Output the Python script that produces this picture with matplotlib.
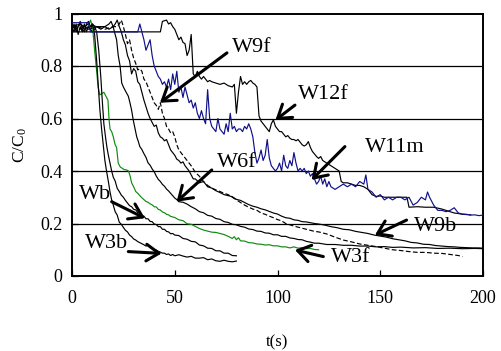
import matplotlib
matplotlib.use("Agg")
import matplotlib.pyplot as plt

plt.rcParams['font.family'] = ['Liberation Serif', 'DejaVu Serif']
plt.rcParams['mathtext.fontset'] = 'custom'
plt.rcParams['mathtext.rm'] = 'Liberation Serif'
plt.rcParams['mathtext.it'] = 'Liberation Serif:italic'

# ---------------- data (t in s, C/C0) ----------------
W3b = [(0,0.95),(1,0.93),(2,0.96),(3,0.92),(4,0.95),(5,0.93),(6,0.96),(7,0.93),(8,0.95),(9,0.94),
       (10,0.96),(11,0.92),(12,0.82),(13,0.70),(13.6,0.63),(14.4,0.56),(15.2,0.50),(16,0.44),(16.8,0.40),
       (17.7,0.36),(18.5,0.32),(19.3,0.29),(20.1,0.27),(21,0.245),(22,0.232),(23,0.205),(24,0.197),
       (25,0.185),(26,0.174),(27,0.168),(28,0.156),(29,0.150),(30,0.141),(31,0.137),(32,0.131),(33,0.127),
       (34,0.123),(35,0.119),(36,0.114),(37,0.117),(38,0.108),(39,0.107),(40,0.101),(41,0.099),(42,0.094),
       (43,0.091),(44,0.087),(45,0.087),(46,0.082),(47,0.084),(48,0.078),(49,0.082),(50,0.077),(52,0.081),
       (54,0.076),(56,0.072),(58,0.075),(60,0.068),(62,0.068),(64,0.070),(66,0.062),(68,0.065),(70,0.058),
       (72,0.056),(74,0.060),(76,0.056),(78,0.054),(80,0.057)]

Wb = [(0,0.94),(1,0.96),(2,0.93),(3,0.95),(4,0.97),(5,0.94),(6,0.93),(7,0.96),(8,0.97),(9,0.95),
      (10,0.96),(11,0.95),(12,0.93),(13,0.86),(14,0.76),(14.8,0.66),(15.5,0.58),(16.3,0.53),(17,0.49),
      (17.7,0.46),(18.5,0.43),(19.3,0.40),(20.1,0.376),(21,0.362),(22,0.334),(23,0.322),(24,0.308),
      (25,0.300),(26,0.288),(27,0.278),(28,0.268),(29,0.264),(30,0.254),(31,0.252),(32,0.242),(33,0.240),
      (34,0.230),(35,0.228),(36,0.218),(37,0.218),(38,0.208),(39,0.207),(40,0.198),(41,0.196),(42,0.188),
      (43,0.188),(44,0.178),(45,0.178),(46,0.170),(47,0.168),(48,0.161),(49,0.162),(50,0.156),(52,0.154),
      (54,0.143),(56,0.140),(58,0.132),(60,0.130),(62,0.118),(64,0.115),(66,0.106),(68,0.105),(70,0.096),
      (72,0.096),(74,0.087),(76,0.087),(78,0.078),(80,0.077)]

W3f = [(8,0.95),(9,0.975),(10,0.95),(11,0.86),(12,0.78),(12.7,0.72),(13.5,0.69),(14.6,0.695),
       (15.5,0.70),(16.5,0.685),(17.5,0.67),(18,0.60),(18.5,0.56),(19.3,0.55),(20.1,0.53),(21,0.50),
       (21.7,0.49),(22.5,0.43),(23.5,0.415),(24.5,0.41),(25.5,0.405),(26.6,0.404),(27.5,0.40),(28.3,0.38),
       (29,0.355),(30,0.34),(31,0.322),(32,0.315),(33,0.306),(34,0.298),(35,0.291),(36,0.284),(37,0.281),
       (38,0.275),(39,0.271),(40,0.264),(41,0.263),(42,0.254),(43,0.251),(44,0.244),(45,0.241),(46,0.235),
       (47,0.233),(48,0.227),(50,0.223),(52,0.214),(54,0.211),(56,0.199),(58,0.197),(60,0.189),(62,0.181),
       (64,0.175),(66,0.171),(68,0.167),(70,0.166),(72,0.162),(74,0.158),(76,0.151),(78,0.143),(79,0.150),
       (80,0.138),(81,0.146),(82,0.134),(84,0.133),(86,0.127),(88,0.126),(90,0.122),(92,0.121),(94,0.118),
       (96,0.119),(98,0.115),(100,0.115),(102,0.111),(104,0.111),(106,0.107),(108,0.111),(110,0.106),
       (112,0.108),(114,0.104),(116,0.105),(118,0.101),(120,0.100)]

W6f = [(0,0.95),(4,0.96),(8,0.94),(12,0.95),(16,0.95),(18,0.96),(19,0.97),(20,0.95),(21,0.92),
       (21.7,0.90),(22.5,0.84),(23.4,0.80),(24.2,0.735),(25,0.72),(26,0.705),(27.4,0.685),(28.2,0.66),
       (29,0.632),(29.8,0.594),(30.7,0.56),(31.5,0.53),(32.3,0.512),(33,0.493),(34,0.482),(35,0.466),
       (36,0.452),(37,0.431),(38,0.422),(39,0.408),(40,0.397),(41,0.381),(42,0.368),(43,0.360),(44,0.349),
       (45,0.342),(46,0.331),(47,0.324),(48,0.315),(49,0.306),(50,0.297),(51,0.291),(52,0.283),(54,0.281),
       (56,0.274),(58,0.264),(60,0.256),(62,0.245),(64,0.241),(66,0.231),(68,0.228),(70,0.219),(72,0.216),
       (74,0.207),(76,0.204),(78,0.197),(80,0.195),(82,0.189),(84,0.186),(86,0.179),(88,0.177),(90,0.171),
       (92,0.170),(94,0.164),(96,0.163),(98,0.157),(100,0.157),(102,0.151),(104,0.151),(106,0.145),
       (108,0.143),(110,0.139),(112,0.138),(114,0.132),(116,0.129),(118,0.125),(120,0.125),(124,0.120),
       (128,0.120),(132,0.117),(136,0.117),(140,0.114),(144,0.114),(148,0.111),(152,0.112),(156,0.109),
       (160,0.110),(166,0.107),(172,0.108),(178,0.105),(184,0.106),(190,0.104),(196,0.105),(200,0.104)]

W9b = [(0,0.95),(2,0.94),(4,0.96),(6,0.94),(8,0.95),(10,0.93),(12,0.95),(14,0.94),(16,0.95),(18,0.94),
       (20,0.95),(21,0.96),(22,0.975),(23,0.95),(24,0.93),(25,0.90),(26,0.88),(27,0.84),(28,0.82),(29,0.77),
       (30,0.79),(31,0.78),(32,0.74),(33,0.73),(34,0.70),(35,0.67),(36,0.645),(37,0.62),(38,0.60),(39,0.585),
       (40,0.57),(41,0.575),(42,0.545),(43,0.53),(44,0.525),(45,0.515),(46,0.52),(47,0.50),(48,0.48),
       (49,0.47),(50,0.46),(51,0.445),(52,0.44),(53,0.43),(54,0.435),(55,0.42),(56,0.41),(57,0.40),
       (58,0.385),(59,0.37),(60,0.37),(62,0.355),(64,0.36),(66,0.34),(68,0.335),(70,0.325),(72,0.318),
       (74,0.31),(76,0.306),(78,0.302),(80,0.292),(82,0.288),(84,0.28),(86,0.272),(88,0.266),(90,0.262),
       (92,0.256),(94,0.252),(96,0.246),(98,0.24),(100,0.236),(102,0.228),(104,0.222),(106,0.22),
       (108,0.214),(110,0.212),(112,0.207),(114,0.206),(116,0.203),(118,0.2),(120,0.198),(123,0.194),
       (126,0.188),(129,0.184),(132,0.178),(135,0.176),(138,0.17),(141,0.166),(144,0.162),(147,0.156),
       (150,0.152),(153,0.148),(156,0.142),(159,0.138),(162,0.134),(165,0.128),(168,0.126),(171,0.121),
       (174,0.12),(177,0.116),(180,0.114),(183,0.112),(186,0.111),(189,0.109),(192,0.108),(195,0.107),
       (198,0.107),(200,0.106)]

W9f = [(0,0.95),(4,0.94),(8,0.96),(12,0.95),(16,0.94),(20,0.95),(22,0.95),(23,0.96),(24,0.975),
       (25,0.95),(26,0.92),(27,0.885),(28,0.90),(29,0.86),(30,0.83),(31,0.81),(32,0.785),(33,0.79),
       (34,0.78),(35,0.75),(36,0.74),(37,0.72),(38,0.70),(39,0.68),(40,0.66),(41,0.65),(42,0.635),
       (43,0.66),(44,0.62),(45,0.60),(46,0.57),(47,0.56),(48,0.545),(49,0.55),(50,0.53),(51,0.50),
       (52,0.48),(54,0.46),(56,0.44),(58,0.42),(60,0.395),(62,0.38),(64,0.36),(66,0.345),(68,0.335),
       (70,0.328),(72,0.322),(74,0.315),(76,0.31),(78,0.30),(80,0.29),(82,0.28),(84,0.27),(86,0.262),
       (88,0.255),(90,0.25),(92,0.24),(94,0.235),(96,0.228),(98,0.222),(100,0.215),(102,0.21),(104,0.20),
       (106,0.195),(108,0.19),(110,0.186),(112,0.182),(114,0.178),(116,0.174),(118,0.17),(120,0.168),
       (124,0.16),(128,0.148),(132,0.137),(136,0.13),(140,0.122),(144,0.117),(148,0.112),(152,0.106),
       (156,0.10),(160,0.097),(164,0.093),(168,0.09),(172,0.09),(176,0.087),(180,0.086),(184,0.082),
       (188,0.078),(190,0.074)]

W12f = [(0,0.93),(43,0.93),(44,0.97),(46,0.975),(47,0.96),(48,0.965),(49,0.95),(50,0.94),(51,0.92),
        (52,0.90),(53,0.91),(54,0.89),(55,0.885),(56,0.84),(57,0.86),(58,0.92),(59,0.77),(60,0.76),
        (61,0.78),(62,0.76),(63,0.75),(64,0.76),(65,0.75),(66,0.74),(67,0.745),(68,0.74),(70,0.735),
        (72,0.73),(74,0.735),(76,0.725),(78,0.72),(79,0.73),(80,0.62),(81,0.70),(82,0.76),(83,0.73),
        (84,0.74),(85,0.73),(86,0.74),(87,0.745),(88,0.735),(89,0.73),(90,0.72),(91,0.61),(92,0.59),
        (93,0.58),(94,0.57),(95,0.56),(96,0.55),(97,0.58),(98,0.595),(99,0.57),(100,0.56),(101,0.55),
        (102,0.55),(103,0.54),(104,0.53),(105,0.535),(106,0.525),(107,0.52),(108,0.52),(109,0.515),
        (110,0.52),(111,0.51),(112,0.50),(113,0.495),(114,0.50),(115,0.512),(116,0.49),(117,0.474),
        (118,0.465),(119,0.455),(120,0.448),(121,0.455),(122,0.44),(123,0.435),(124,0.43),(125,0.425),
        (126,0.42),(127,0.415),(128,0.41),(129,0.405),(130,0.40),(131,0.36),(132,0.355),(134,0.355),
        (136,0.35),(138,0.345),(140,0.345),(142,0.34),(144,0.33),(146,0.31),(148,0.303),(150,0.305),
        (152,0.30),(156,0.30),(160,0.30),(163,0.30),(164,0.262),(168,0.264),(172,0.262),(176,0.262),
        (180,0.255),(182,0.25),(184,0.245),(186,0.24),(188,0.238),(190,0.235),(194,0.233)]

W11m = [(0,0.965),(8,0.965),(9,0.93),(32,0.93),(33,0.96),(34,0.93),(35,0.90),(36,0.86),(37,0.88),
        (38,0.90),(39,0.84),(40,0.80),(41,0.78),(42,0.76),(43,0.75),(44,0.73),(45,0.74),(46,0.72),
        (47,0.75),(48,0.71),(49,0.77),(50,0.73),(51,0.78),(52,0.70),(53,0.72),(54,0.68),(55,0.72),
        (56,0.69),(57,0.66),(58,0.67),(59,0.64),(60,0.66),(61,0.62),(62,0.60),(63,0.63),(64,0.60),
        (65,0.58),(66,0.71),(67,0.60),(68,0.57),(69,0.56),(70,0.55),(71,0.60),(72,0.56),(73,0.55),
        (74,0.54),(75,0.58),(76,0.55),(77,0.62),(78,0.56),(79,0.57),(80,0.55),(81,0.56),(82,0.56),
        (83,0.55),(84,0.57),(85,0.56),(86,0.58),(87,0.56),(88,0.53),(89,0.47),(90,0.43),(91,0.45),
        (92,0.48),(93,0.44),(94,0.46),(95,0.52),(96,0.45),(97,0.42),(98,0.41),(99,0.40),(100,0.41),
        (101,0.43),(102,0.40),(103,0.46),(104,0.42),(105,0.41),(106,0.44),(107,0.42),(108,0.47),
        (109,0.43),(110,0.40),(111,0.41),(112,0.40),(113,0.41),(114,0.39),(115,0.40),(116,0.38),
        (117,0.39),(118,0.37),(119,0.35),(120,0.36),(121,0.38),(122,0.35),(123,0.37),(124,0.34),
        (125,0.36),(126,0.34),(128,0.33),(130,0.34),(132,0.35),(134,0.34),(136,0.35),(138,0.34),
        (140,0.36),(142,0.35),(143,0.385),(144,0.33),(146,0.32),(148,0.30),(150,0.31),(152,0.29),
        (154,0.30),(156,0.29),(158,0.30),(160,0.30),(162,0.29),(164,0.30),(166,0.27),(168,0.28),
        (170,0.30),(172,0.29),(173,0.32),(174,0.30),(176,0.27),(178,0.25),(180,0.25),(182,0.245),
        (184,0.25),(186,0.26),(188,0.24),(190,0.236),(192,0.235),(194,0.232),(196,0.233),(198,0.23),
        (200,0.232)]

# label text, text position (t, C/C0), arrow tail, arrow tip
labels = ["W9f", "W12f", "W11m", "W6f", "Wb", "W3b", "W9b", "W3f"]
label_pos = [(87.6, 0.872), (122.1, 0.69), (157.2, 0.491), (80.3, 0.434),
             (11.2, 0.312), (17.0, 0.122), (177.1, 0.187), (135.8, 0.069)]
arrow_tail = [(75.4, 0.85), (108.5, 0.651), (132.8, 0.493), (68.0, 0.404),
              (19.3, 0.283), (27.4, 0.093), (162.8, 0.213), (122.3, 0.074)]
arrow_tip = [(42.8, 0.66), (99.0, 0.594), (116.6, 0.366), (50.9, 0.283),
             (35.5, 0.22), (43.6, 0.086), (147.4, 0.156), (108.5, 0.099)]

xticks = [0, 50, 100, 150, 200]
yticks = [0, 0.2, 0.4, 0.6, 0.8, 1.0]
ytick_labels = ["0", "0.2", "0.4", "0.6", "0.8", "1"]

# ---------------- figure ----------------
fig = plt.figure(figsize=(5.02, 3.51), dpi=100)
ax = fig.add_axes([72/502, 1-276/351, 411/502, 262.5/351])

for yv in yticks[1:-1]:
    ax.axhline(yv, color='black', lw=0.9, zorder=1)

def plot(pts, **kw):
    t = [p[0] for p in pts]
    y = [p[1] for p in pts]
    ax.plot(t, y, **kw)

plot(W12f, color='black', lw=0.85, zorder=2)
plot(W11m, color='#10108a', lw=0.85, zorder=3)
plot(W9b, color='black', lw=0.85, zorder=2)
plot(W6f, color='black', lw=0.85, zorder=2)
plot(W9f, color='black', lw=0.85, ls=(0, (4, 2)), zorder=2)
plot(W3f, color='#108a10', lw=0.85, zorder=2)
plot(Wb, color='black', lw=0.85, zorder=2)
plot(W3b, color='black', lw=0.85, zorder=2)

for lab, pos, tail, tip in zip(labels, label_pos, arrow_tail, arrow_tip):
    ax.annotate('', xy=tip, xytext=tail,
                arrowprops=dict(arrowstyle='->,head_length=0.6,head_width=0.4',
                                lw=2.2, color='black', shrinkA=0, shrinkB=0,
                                mutation_scale=15), zorder=5)
    ax.text(pos[0], pos[1], lab, fontsize=16, ha='center', va='center', zorder=6)

ax.set_xlim(0, 200)
ax.set_ylim(0, 1)
ax.set_xticks(xticks)
ax.set_xticklabels([str(v) for v in xticks])
ax.set_yticks(yticks)
ax.set_yticklabels(ytick_labels)
ax.tick_params(axis='x', direction='in', length=4.5, width=0.9, pad=10, labelsize=13)
ax.tick_params(axis='y', direction='in', length=4.5, width=0.9, pad=7, labelsize=13)
for s in ax.spines.values():
    s.set_linewidth(1.4)

ax.set_xlabel('t(s)', fontsize=12)
ax.xaxis.set_label_coords(0.5, -0.222)
ax.set_ylabel('C/C$_\\mathrm{0}$', fontsize=12.5)
ax.yaxis.set_label_coords(-0.105, 0.5)

fig.savefig('out.png', dpi=100, facecolor='white')
